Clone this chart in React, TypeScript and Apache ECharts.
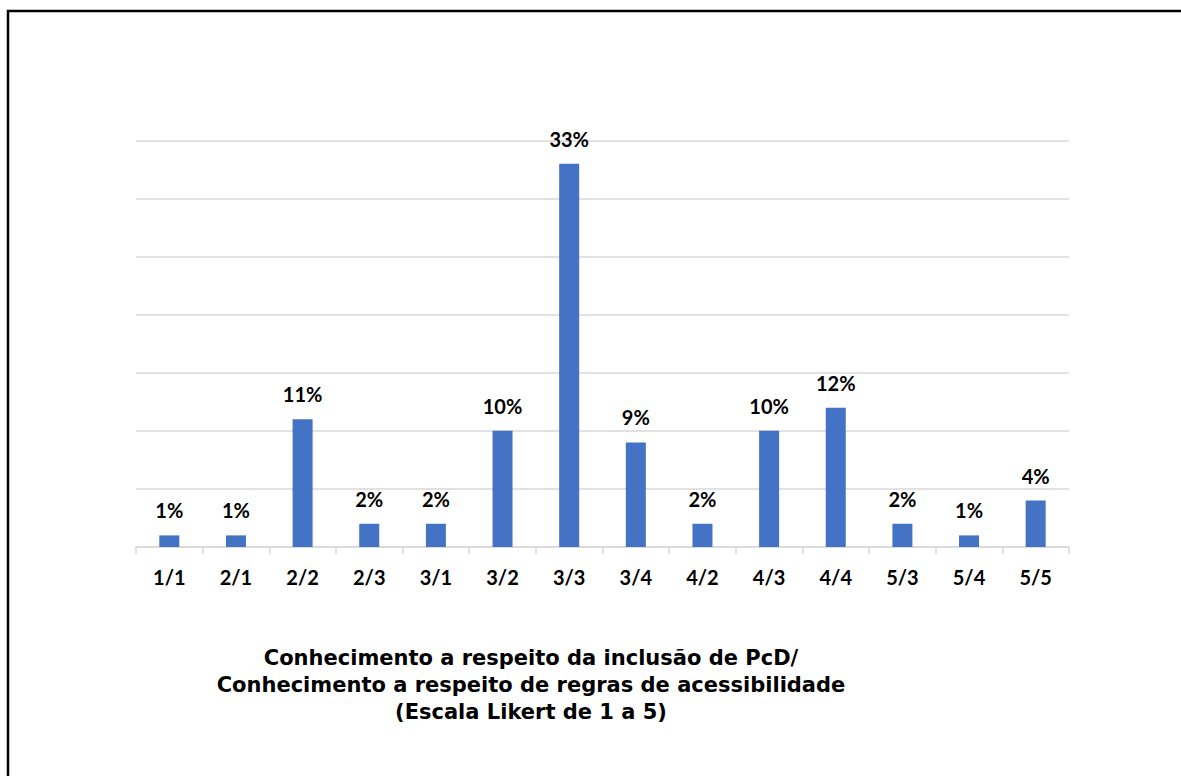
import React, { useEffect, useRef } from "react";
import * as echarts from "echarts";

const categories = ["1/1", "2/1", "2/2", "2/3", "3/1", "3/2", "3/3", "3/4", "4/2", "4/3", "4/4", "5/3", "5/4", "5/5"];
const percentages = [1, 1, 11, 2, 2, 10, 33, 9, 2, 10, 12, 2, 1, 4];
const titleLines = [
  "Conhecimento a respeito da inclusão de PcD/",
  "Conhecimento a respeito de regras de acessibilidade",
  "(Escala Likert de 1 a 5)",
];

const W = 1181;
const H = 776;

export default function App() {
  const ref = useRef<HTMLDivElement>(null);

  useEffect(() => {
    if (!ref.current) return;
    const chart = echarts.init(ref.current, null, { renderer: "svg" });
    chart.setOption({
      animation: false,
      backgroundColor: "#ffffff",
      title: {
        text: titleLines.join("\n"),
        left: 526,
        top: 639,
        textAlign: "center",
        textStyle: {
          fontFamily: "DejaVu Sans",
          fontWeight: "bold",
          fontSize: 21,
          lineHeight: 27,
          color: "#000000",
        },
      },
      grid: { left: 136, right: W - 1069, top: 140.5, bottom: H - 547, containLabel: false },
      xAxis: {
        type: "category",
        data: categories,
        axisLine: { lineStyle: { color: "#d9d9d9", width: 1.5 } },
        axisTick: { show: true, length: 7, lineStyle: { color: "#d9d9d9", width: 1.5 } },
        axisLabel: {
          margin: 20,
          fontFamily: "Lato",
          fontWeight: "bold",
          fontSize: 20,
          color: "#000000",
        },
      },
      yAxis: {
        type: "value",
        min: 0,
        max: 35,
        interval: 5,
        axisLabel: { show: false },
        axisLine: { show: false },
        axisTick: { show: false },
        splitLine: { lineStyle: { color: "#d9d9d9", width: 1.5 } },
      },
      series: [
        {
          type: "bar",
          data: percentages,
          barWidth: 20,
          itemStyle: { color: "#4472c4" },
          label: {
            show: true,
            position: "top",
            distance: 15,
            formatter: "{c}%",
            fontFamily: "Lato",
            fontWeight: "bold",
            fontSize: 20,
            color: "#000000",
          },
        },
      ],
      graphic: [
        {
          type: "rect",
          shape: { x: 8, y: 11, width: W + 50, height: H + 50 },
          style: { fill: "none", stroke: "#000000", lineWidth: 2.5 },
          silent: true,
        },
      ],
    });
    return () => chart.dispose();
  }, []);

  return (
    <div style={{ position: "fixed", left: 0, top: 0, width: W, height: H, background: "#fff" }}>
      <div ref={ref} style={{ width: W, height: H }} />
    </div>
  );
}
